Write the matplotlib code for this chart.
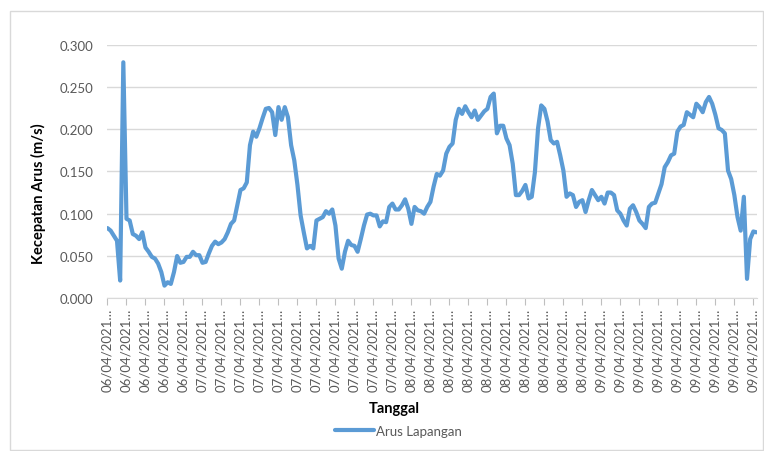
import matplotlib.pyplot as plt
from matplotlib.patches import Rectangle
from matplotlib.ticker import FormatStrFormatter

plt.rcParams['font.family'] = ['Lato', 'DejaVu Sans']

# one label every 6 readings, labels truncated like the spreadsheet does
tanggal = (['06/04/2021…'] * 5 + ['07/04/2021…'] * 11 +
           ['08/04/2021…'] * 10 + ['09/04/2021…'] * 9)
label_step = 6

# kecepatan arus lapangan (m/s)
arus_lapangan = [
    0.083, 0.080, 0.074, 0.068, 0.021, 0.279, 0.094, 0.092, 0.076, 0.074,
    0.070, 0.078, 0.060, 0.055, 0.049, 0.047, 0.041, 0.031, 0.015, 0.019,
    0.017, 0.031, 0.050, 0.042, 0.043, 0.049, 0.049, 0.055, 0.051, 0.051,
    0.042, 0.043, 0.053, 0.062, 0.067, 0.064, 0.066, 0.070, 0.078, 0.088,
    0.092, 0.110, 0.128, 0.130, 0.137, 0.181, 0.197, 0.191, 0.201, 0.213,
    0.224, 0.225, 0.220, 0.193, 0.226, 0.211, 0.226, 0.214, 0.181, 0.163,
    0.134, 0.098, 0.078, 0.059, 0.062, 0.059, 0.092, 0.094, 0.096, 0.103,
    0.100, 0.105, 0.086, 0.047, 0.035, 0.055, 0.068, 0.063, 0.062, 0.055,
    0.070, 0.086, 0.099, 0.100, 0.098, 0.098, 0.085, 0.091, 0.090, 0.108,
    0.112, 0.105, 0.105, 0.110, 0.117, 0.106, 0.088, 0.108, 0.104, 0.103,
    0.100, 0.108, 0.114, 0.132, 0.147, 0.145, 0.151, 0.171, 0.179, 0.183,
    0.211, 0.224, 0.218, 0.227, 0.220, 0.214, 0.222, 0.211, 0.216, 0.221,
    0.224, 0.238, 0.242, 0.195, 0.204, 0.204, 0.189, 0.181, 0.159, 0.122,
    0.122, 0.127, 0.134, 0.118, 0.120, 0.149, 0.201, 0.228, 0.224, 0.209,
    0.187, 0.183, 0.185, 0.169, 0.151, 0.120, 0.124, 0.122, 0.108, 0.114,
    0.116, 0.102, 0.116, 0.128, 0.122, 0.116, 0.120, 0.112, 0.125, 0.125,
    0.122, 0.104, 0.100, 0.092, 0.086, 0.106, 0.110, 0.102, 0.092, 0.088,
    0.083, 0.108, 0.112, 0.113, 0.124, 0.135, 0.155, 0.161, 0.169, 0.171,
    0.197, 0.203, 0.205, 0.220, 0.217, 0.214, 0.230, 0.226, 0.220, 0.232,
    0.238, 0.230, 0.217, 0.201, 0.199, 0.195, 0.151, 0.141, 0.122, 0.096,
    0.080, 0.120, 0.023, 0.070, 0.079, 0.078,
]
y_ticks = [0.0, 0.05, 0.10, 0.15, 0.20, 0.25, 0.30]

grey_text = '#595959'
grid_col = '#d9d9d9'

fig = plt.figure(figsize=(7.64, 4.52), dpi=100)
fig.patches.append(Rectangle((10 / 764, 1 / 452), 753 / 764, 439 / 452,
                             transform=fig.transFigure, fill=False,
                             edgecolor=grid_col, lw=1))

ax = fig.add_axes([0.1407, 0.3378, 0.8495, 0.5615])
n = len(arus_lapangan)
ax.plot(range(n), arus_lapangan, color='#5b9bd5', lw=3.0,
        solid_joinstyle='round', solid_capstyle='round', label='Arus Lapangan')

ax.set_xlim(0, n - 1)
ax.set_ylim(0, 0.3)
ax.set_yticks(y_ticks)
ax.yaxis.set_major_formatter(FormatStrFormatter('%.3f'))
ax.set_xticks(range(0, n, label_step))
ax.set_xticklabels(tanggal, rotation=90)

ax.grid(axis='y', color=grid_col, lw=1)
ax.set_axisbelow(True)
for s in ['top', 'right', 'left']:
    ax.spines[s].set_visible(False)
ax.spines['bottom'].set_color(grid_col)
ax.tick_params(axis='y', length=0, pad=10, labelsize=9.5, labelcolor=grey_text)
ax.tick_params(axis='x', length=5, color='#bfbfbf', pad=2, labelsize=9.5,
               labelcolor=grey_text)

fig.text(38 / 764, 1 - 194 / 452, 'Kecepatan Arus (m/s)', rotation=90,
         ha='center', va='center', fontsize=10.5, weight='bold')
fig.text(394 / 764, 1 - 409 / 452, 'Tanggal', ha='center', va='center',
         fontsize=10.5, weight='bold')
fig.legend(loc='center', bbox_to_anchor=(398 / 764, 1 - 432 / 452),
           frameon=False, fontsize=9.5, handlelength=3, handletextpad=0.1,
           labelcolor=grey_text)

fig.savefig('out.png', dpi=100)
